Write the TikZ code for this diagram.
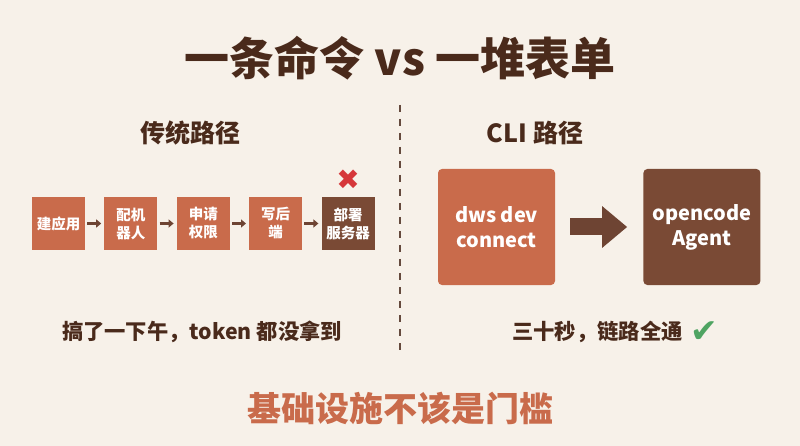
\documentclass[tikz,border=0pt]{standalone}
\usepackage{fontspec}
\setmainfont{Noto Sans CJK SC}[BoldFont={Noto Sans CJK SC Black}]
\newfontfamily\symfont{DejaVu Sans}
\usetikzlibrary{arrows.meta, positioning}
\definecolor{cream}{HTML}{F7F1E9}
\definecolor{ink}{HTML}{4A2A1B}
\definecolor{terra}{HTML}{C96B4B}
\definecolor{bark}{HTML}{7A4A35}
\definecolor{arrowbrown}{HTML}{6E4433}
\definecolor{failred}{HTML}{D6373A}
\definecolor{okgreen}{HTML}{4FA462}

\begin{document}
\begin{tikzpicture}[x=1pt, y=-1pt,
            chainbox/.style={fill=terra, minimum width=53pt, minimum height=53pt, inner sep=0pt, align=center, text=white, font=\fontsize{14.5}{18}\selectfont\bfseries},
            bigbox/.style={fill=terra, rounded corners=4pt, minimum width=117pt, minimum height=116pt, inner sep=0pt, align=center, text=white, font=\fontsize{20}{25}\selectfont\bfseries},
            head/.style={text=ink, inner sep=0pt, font=\fontsize{25}{30}\selectfont\bfseries},
            note/.style={text=ink, inner sep=0pt, font=\fontsize{21.3}{24}\selectfont\bfseries},
            link/.style={-{Triangle[length=5pt, width=8pt]}, line width=2.5pt, draw=arrowbrown, shorten <=2pt, shorten >=3pt},
            bigarrow/.style={-{Triangle[length=25pt, width=40pt]}, line width=17pt, draw=arrowbrown, shorten <=15pt, shorten >=16pt}
        ]
            \fill[cream] (0,0) rectangle (800,446);

            % Title
            \node[text=ink, inner sep=0pt, font=\fontsize{45}{52}\selectfont\bfseries] (title) at (400,58) {一条命令 vs 一堆表单};

            % Column heads
            \node[head] (oldhead) at (190,133) {传统路径};
            \node[head] (clihead) at (535,133) {CLI 路径};

            % Divider
            \coordinate (divtop) at (400,105);
            \coordinate (divbot) at (400,355);
            \draw[ink!85, line width=1.5pt, dash pattern=on 7pt off 7pt] (divtop) -- (divbot);

            % Traditional path
            \node[chainbox] (app) at (58.5,223.5) {建应用};
            \node[chainbox, right=19pt of app] (robot) {配机\\器人};
            \node[chainbox, right=19pt of robot] (perm) {申请\\权限};
            \node[chainbox, right=19pt of perm] (backend) {写后\\端};
            \node[chainbox, fill=bark, right=19pt of backend] (deploy) {部署\\服务器};
            \node[text=failred, inner sep=0pt, font=\symfont\fontsize{28}{28}\selectfont, above=7pt of deploy] (fail) {✖};

            \foreach \a/\b in {app/robot, robot/perm, perm/backend, backend/deploy}
                \draw[link] (\a) -- (\b);

            % CLI path
            \node[bigbox] (dws) at (496.5,227) {dws dev\\connect};
            \node[bigbox, fill=bark, right=88pt of dws] (agent) {opencode\\Agent};
            \draw[bigarrow] (dws) -- (agent);

            % Outcomes
            \node[note] (slow) at (202,332) {搞了一下午，token 都没拿到};
            \node[note, anchor=west] (fast) at (512,332) {三十秒，链路全通};
            \node[text=okgreen, inner sep=0pt, font=\symfont\fontsize{33}{33}\selectfont, right=7pt of fast] (ok) {✔};

            % Slogan
            \node[text=terra, inner sep=0pt, font=\fontsize{34}{40}\selectfont\bfseries] (slogan) at (400,408) {基础设施不该是门槛};

        \end{tikzpicture}
\end{document}
